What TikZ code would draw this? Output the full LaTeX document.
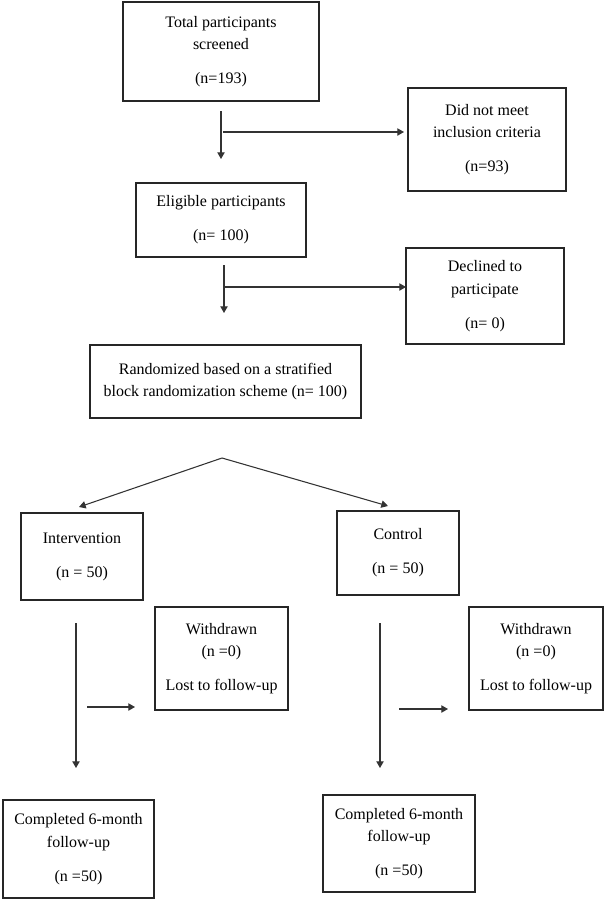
\documentclass[tikz,border=0pt]{standalone}
\usepackage{fontspec}
\setmainfont{Liberation Serif}
\usetikzlibrary{arrows.meta}

\begin{document}
\begin{tikzpicture}[x=0.75pt,y=-0.75pt,inner sep=0pt,outer sep=0pt,
flowbox/.style={draw=black!85,rectangle,line width=1.1pt,align=center,
  font=\fontsize{12pt}{17pt}\selectfont},
flowarrow/.style={draw=black!80,line width=0.8pt,-{Triangle[length=5pt,width=5.5pt]}}]
\useasboundingbox (0,0) rectangle (605,900);
% boxes
\node[flowbox,minimum width=147pt,minimum height=74.25pt] (screened) at (221,51.5)
  {Total participants\\screened\\[8.5pt](n=193)};
\node[flowbox,minimum width=118.5pt,minimum height=77.25pt] (excluded) at (487,139.5)
  {Did not meet\\inclusion criteria\\[8.5pt](n=93)};
\node[flowbox,minimum width=127.5pt,minimum height=55.5pt] (eligible) at (221,220)
  {Eligible participants\\[8.5pt](n= 100)};
\node[flowbox,minimum width=118.5pt,minimum height=72pt] (declined) at (485,296)
  {Declined to\\participate\\[8.5pt](n= 0)};
\node[flowbox,minimum width=203.25pt,minimum height=54.75pt] (randomized) at (225.5,381.5)
  {Randomized based on a stratified\\block randomization scheme (n= 100)};
\node[flowbox,minimum width=91.5pt,minimum height=65.25pt] (interv) at (82,556.5)
  {Intervention\\[8.5pt](n = 50)};
\node[flowbox,minimum width=91.5pt,minimum height=63pt] (control) at (398,553)
  {Control\\[8.5pt](n = 50)};
\node[flowbox,minimum width=99.75pt,minimum height=77.25pt] (withdrawnI) at (221.5,658.5)
  {Withdrawn\\(n =0)\\[8.5pt]Lost to follow-up};
\node[flowbox,minimum width=100.5pt,minimum height=77.25pt] (withdrawnC) at (536,658.5)
  {Withdrawn\\(n =0)\\[8.5pt]Lost to follow-up};
\node[flowbox,minimum width=113.25pt,minimum height=73.5pt] (completedI) at (78.5,849)
  {Completed 6-month\\follow-up\\[8.5pt](n =50)};
\node[flowbox,minimum width=114pt,minimum height=72.75pt] (completedC) at (399,843.5)
  {Completed 6-month\\follow-up\\[8.5pt](n =50)};
% arrow ends
\coordinate (scrOut) at (221,111);
\coordinate (scrIn) at (221,159);
\coordinate (excOut) at (223,132);
\coordinate (excIn) at (404,132);
\coordinate (eliOut) at (224,265);
\coordinate (eliIn) at (224,313);
\coordinate (decOut) at (224,287);
\coordinate (decIn) at (406,287);
\coordinate (split) at (222,458);
\coordinate (intIn) at (79,507);
\coordinate (conIn) at (388,506);
\coordinate (intOut) at (76,623);
\coordinate (compIIn) at (76,768);
\coordinate (wdIOut) at (87,707);
\coordinate (wdIIn) at (135,707);
\coordinate (conOut) at (380,623);
\coordinate (compCIn) at (380,768);
\coordinate (wdCOut) at (399,709);
\coordinate (wdCIn) at (448,709);
% connectors
\draw[flowarrow] (scrOut) -- (scrIn);
\draw[flowarrow] (excOut) -- (excIn);
\draw[flowarrow] (eliOut) -- (eliIn);
\draw[flowarrow] (decOut) -- (decIn);
\draw[flowarrow] (split) -- (intIn);
\draw[flowarrow] (split) -- (conIn);
\draw[flowarrow] (intOut) -- (compIIn);
\draw[flowarrow] (wdIOut) -- (wdIIn);
\draw[flowarrow] (conOut) -- (compCIn);
\draw[flowarrow] (wdCOut) -- (wdCIn);
\end{tikzpicture}
\end{document}
